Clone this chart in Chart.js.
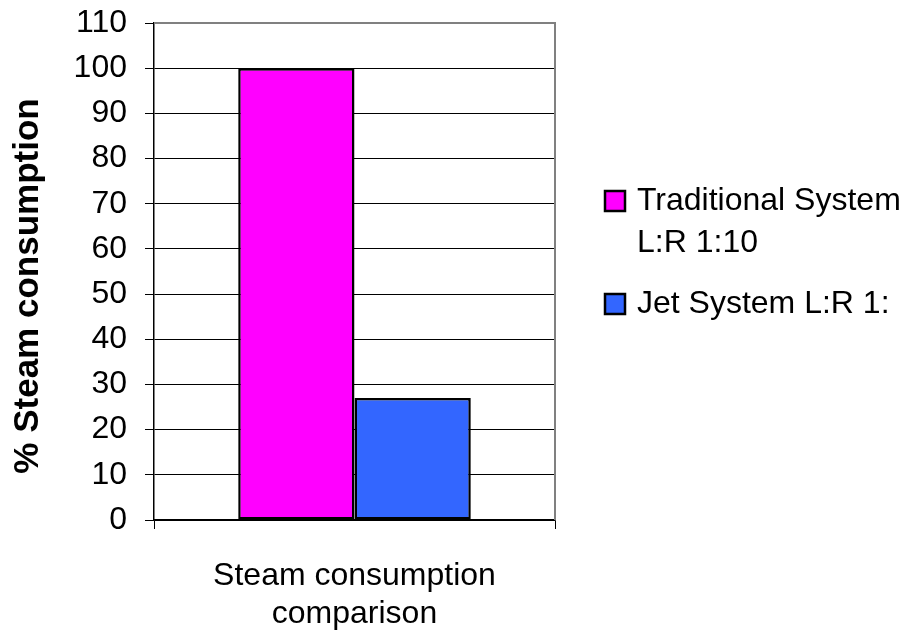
<!DOCTYPE html>
<html><head><meta charset="utf-8">
<script src="https://cdn.jsdelivr.net/npm/chart.js@4"></script>
<style>html,body{margin:0;padding:0;background:#fff}#wrap{width:908px;height:633px}</style>
</head><body><div id="wrap"><canvas id="c" width="908" height="633"></canvas></div>
<script>
const categories = [["Steam consumption", "comparison"]];
const seriesNames = [["Traditional System", "L:R 1:10"], ["Jet System L:R 1:"]];
const traditional = [100];
const jet = [27];
const yTitle = "% Steam consumption";
const FONT = "'Liberation Sans', Arial, sans-serif";

const legendPlugin = {
  id: 'customLegend',
  afterDraw(chart) {
    const ctx = chart.ctx;
    const a = chart.chartArea;
    ctx.save();
    // plot border top/right in gray
    ctx.strokeStyle = '#808080';
    ctx.lineWidth = 2;
    ctx.beginPath();
    ctx.moveTo(a.left, a.top); ctx.lineTo(a.right, a.top); ctx.lineTo(a.right, a.bottom);
    ctx.stroke();
    // y title
    ctx.save();
    ctx.translate(28, 286);
    ctx.rotate(-Math.PI / 2);
    ctx.font = 'bold 35px ' + FONT;
    ctx.fillStyle = '#000';
    ctx.textAlign = 'center';
    ctx.textBaseline = 'middle';
    ctx.fillText(yTitle, 0, 0);
    ctx.restore();
    // legend
    ctx.font = '32px ' + FONT;
    ctx.textBaseline = 'middle';
    const ys = [[201, 243], [304]];
    chart.data.datasets.forEach((ds, i) => {
      const y0 = ys[i][0];
      ctx.fillStyle = ds.backgroundColor;
      ctx.fillRect(605, y0 - 10, 20, 20);
      ctx.strokeStyle = '#000';
      ctx.lineWidth = 2.5;
      ctx.strokeRect(605, y0 - 10, 20, 20);
      ctx.fillStyle = '#000';
      seriesNames[i].forEach((t, j) => ctx.fillText(t, 637, ys[i][j]));
    });
    ctx.restore();
  }
};

new Chart(document.getElementById('c'), {
  type: 'bar',
  data: {
    labels: categories,
    datasets: [
      { label: seriesNames[0].join(' '), data: traditional, backgroundColor: '#FF00FF', borderColor: '#000', borderWidth: 2.5, borderSkipped: false },
      { label: seriesNames[1].join(' '), data: jet, backgroundColor: '#3366FF', borderColor: '#000', borderWidth: 2.5, borderSkipped: false }
    ]
  },
  options: {
    responsive: false,
    animation: false,
    layout: { padding: { left: 0, top: 23, right: 353, bottom: 0 } },
    plugins: { legend: { display: false }, tooltip: { enabled: false } },
    datasets: { bar: { categoryPercentage: 0.58, barPercentage: 1 } },
    scales: {
      x: {
        afterFit(s) { s.height = 113; s.paddingLeft = 0; s.paddingRight = 0; },
        grid: { display: true, drawOnChartArea: false, offset: true, color: '#000', tickLength: 9, lineWidth: 1 },
        border: { color: '#000', width: 1.5 },
        ticks: { color: '#000', font: { family: FONT, size: 32 }, padding: 28, maxRotation: 0 }
      },
      y: {
        min: 0, max: 110,
        afterFit(s) { s.width = 154; s.paddingTop = 0; s.paddingBottom = 0; },
        grid: { color: '#000', tickLength: 9, lineWidth: 1 },
        border: { color: '#000', width: 1.5 },
        ticks: { stepSize: 10, color: '#000', font: { family: FONT, size: 32 }, padding: 18 }
      }
    }
  },
  plugins: [legendPlugin]
});
</script></body></html>
